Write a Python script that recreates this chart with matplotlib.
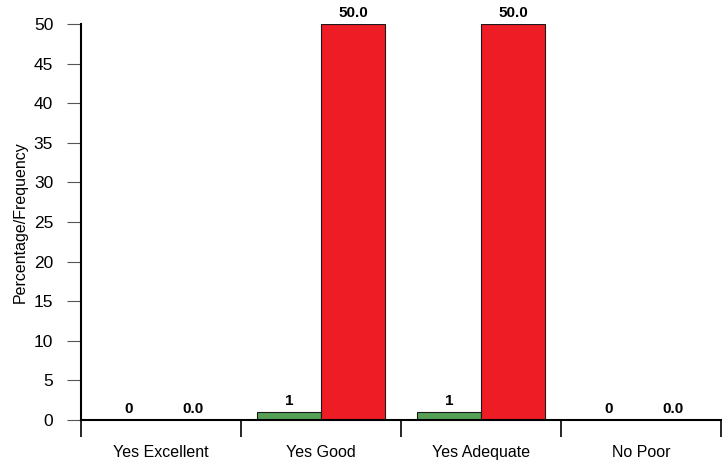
import matplotlib
matplotlib.use("Agg")
import matplotlib.pyplot as plt
import numpy as np

plt.rcParams['font.family'] = ['Liberation Sans', 'DejaVu Sans']

categories = ["Yes Excellent", "Yes Good", "Yes Adequate", "No Poor"]
frequency = [0, 1, 1, 0]
percentage = [0.0, 50.0, 50.0, 0.0]

fig = plt.figure(figsize=(7.27, 4.66), dpi=100)
ax = fig.add_axes([0.1114, 0.0987, 0.8804, 0.8498])

x = np.arange(len(categories))
w = 0.4
ax.bar(x - w/2, frequency, width=w, color="#55a055", edgecolor="#1a1a1a", linewidth=0.8)
ax.bar(x + w/2, percentage, width=w, color="#ee1c25", edgecolor="#1a1a1a", linewidth=0.8)

for xi, f, p in zip(x, frequency, percentage):
    ax.text(xi - w/2, f + 0.5, f"{f:d}", ha="center", va="bottom", fontsize=11, fontweight="bold")
    ax.text(xi + w/2, p + 0.5, f"{p:.1f}", ha="center", va="bottom", fontsize=11, fontweight="bold")

ax.set_xlim(-0.5, len(categories) - 0.5)
ax.set_ylim(0, 50)
ax.set_yticks(np.arange(0, 51, 5))
ax.set_xticks(np.arange(-0.5, len(categories), 1.0))
ax.set_xticklabels([])
ax.set_xticks(x, minor=True)
ax.set_xticklabels(categories, minor=True, fontsize=11.5)
ax.tick_params(axis='x', which='minor', length=0, pad=18)
ax.tick_params(axis='x', which='major', length=12, width=1.2, direction='out')
ax.tick_params(axis='y', length=10, width=0.8, color="#555555", labelsize=12.5, pad=10)

for s in ["top", "right"]:
    ax.spines[s].set_visible(False)
ax.spines["left"].set_linewidth(1.5)
ax.spines["bottom"].set_linewidth(1.5)

ax.set_ylabel("Percentage/Frequency", fontsize=11.5, labelpad=4)

fig.savefig("out.png", dpi=100)
